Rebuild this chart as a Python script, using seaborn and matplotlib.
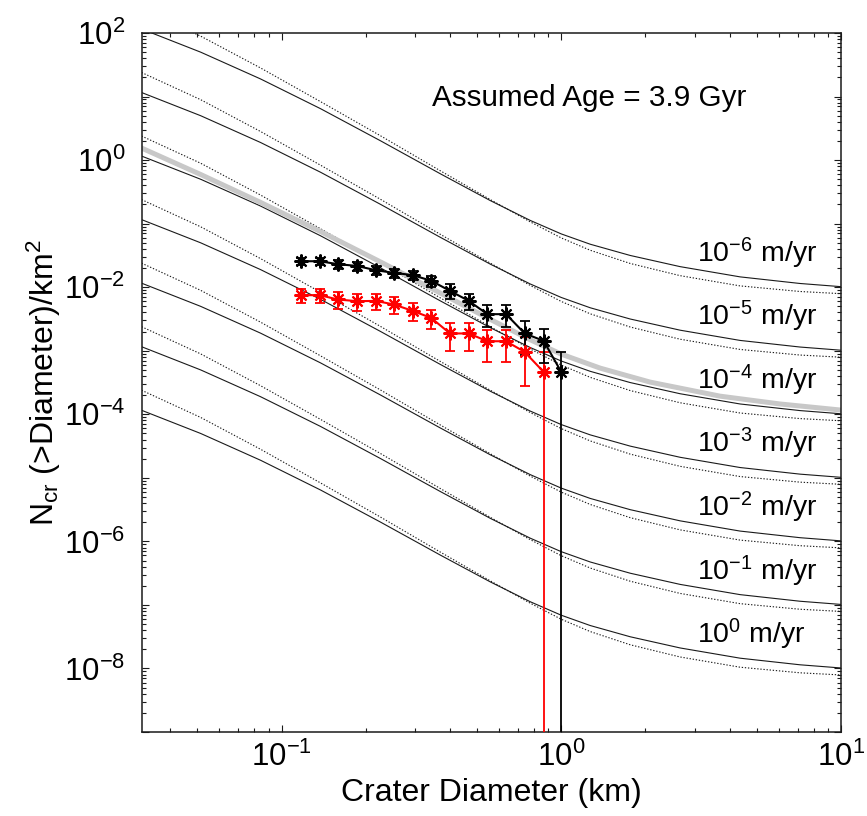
import matplotlib
matplotlib.use("Agg")
import numpy as np
import pandas as pd
import seaborn as sns
import matplotlib.pyplot as plt

# %%
# Values

# equilibrium curves, read for the 10^0 m/yr case (the others sit one decade higher per rate step)
curve_D = [0.0316, 0.0514, 0.0841, 0.1378, 0.2257, 0.3697, 0.5578, 0.775, 1.0,
           1.269, 1.764, 2.661, 4.359, 7.139, 10.0]
solid_logN = [-3.937, -4.302, -4.723, -5.191, -5.696, -6.216, -6.638, -6.950, -7.162,
              -7.324, -7.501, -7.677, -7.838, -7.942, -7.992]
dotted_logN = [-3.622, -4.050, -4.550, -5.080, -5.617, -6.169, -6.622, -6.973, -7.225,
               -7.419, -7.627, -7.819, -7.980, -8.068, -8.102]
rates = [1e-6, 1e-5, 1e-4, 1e-3, 1e-2, 1e-1, 1e0]
rate_exp = [-6, -5, -4, -3, -2, -1, 0]

# gray production curve
gray_D = [0.0316, 0.0514, 0.0841, 0.1378, 0.2257, 0.3697, 0.5578, 0.775, 1.0,
          1.378, 2.079, 3.698, 6.056, 10.0]
gray_logN = [0.189, -0.227, -0.666, -1.124, -1.602, -2.093, -2.507, -2.828, -3.054,
             -3.274, -3.494, -3.715, -3.838, -3.934]

# crater counts
count_D = [0.117, 0.137, 0.159, 0.186, 0.217, 0.252, 0.294, 0.343, 0.400, 0.467,
           0.544, 0.635, 0.740, 0.865, 1.0]
black_N = [0.0256, 0.0256, 0.0230, 0.0216, 0.0185, 0.0168, 0.0155, 0.0126, 0.00875,
           0.00609, 0.00376, 0.00376, 0.00187, 0.00143, 0.000463]
black_rel = [0.14, 0.14, 0.16, 0.17, 0.17, 0.17, 0.17, 0.21, 0.26, 0.29, 0.37, 0.37,
             0.55, 0.55, 1.04]
red_N = [0.00748, 0.00748, 0.0064, 0.00602, 0.00608, 0.00535, 0.00424, 0.00328,
         0.00187, 0.00187, 0.00141, 0.00141, 0.000957, 0.000463]
red_rel = [0.25, 0.25, 0.29, 0.29, 0.28, 0.29, 0.31, 0.34, 0.48, 0.48, 0.53, 0.53,
           0.71, 1.05]

# %%
# Setup
sns.set_theme(style="ticks")
plt.rcParams['font.family'] = ['Liberation Sans', 'DejaVu Sans']
plt.rcParams['mathtext.fontset'] = 'custom'
plt.rcParams['mathtext.rm'] = 'Liberation Sans'
plt.rcParams['mathtext.it'] = 'Liberation Sans:italic'
plt.rcParams['mathtext.bf'] = 'Liberation Sans:bold'
plt.rcParams['xtick.direction'] = 'in'
plt.rcParams['ytick.direction'] = 'in'
plt.rcParams['text.color'] = 'black'
plt.rcParams['axes.labelcolor'] = 'black'
plt.rcParams['xtick.color'] = 'black'
plt.rcParams['ytick.color'] = 'black'
plt.rcParams['xtick.labelcolor'] = 'black'
plt.rcParams['ytick.labelcolor'] = 'black'

fig = plt.figure(figsize=(8.67, 8.16), dpi=100)
ax = fig.add_axes([0.1634, 0.1029, 0.8066, 0.8567])
ax.set_xscale('log')
ax.set_yscale('log', nonpositive='clip')

# %%
# Erosion curves
rows = []
for r in rates:
    for d, s, t in zip(curve_D, solid_logN, dotted_logN):
        rows.append({'D': d, 'N': 10 ** s / r, 'kind': 'solid', 'rate': r})
        rows.append({'D': d, 'N': 10 ** t / r, 'kind': 'dotted', 'rate': r})
curves = pd.DataFrame(rows)

sns.lineplot(data=curves[curves['kind'] == 'dotted'], x='D', y='N', units='rate',
             estimator=None, color='0.1', lw=0.8, linestyle=(0, (1.2, 1.6)), ax=ax)
sns.lineplot(data=curves[curves['kind'] == 'solid'], x='D', y='N', units='rate',
             estimator=None, color='k', lw=0.8, ax=ax)

# production function
sns.lineplot(x=gray_D, y=[10 ** v for v in gray_logN], color='#c8c8c8', lw=3.6, ax=ax)

# %%
# Crater counts with error bars
for D, N, rel, col in [(count_D[:len(red_N)], red_N, red_rel, 'red'),
                       (count_D, black_N, black_rel, 'black')]:
    N = np.array(N)
    err = N * np.array(rel)
    ax.errorbar(D, N, yerr=[err, err], fmt='none', ecolor=col, elinewidth=1.3,
                capsize=3.5, capthick=1.3, zorder=4)
    sns.lineplot(x=D, y=N, color=col, lw=1.5, marker=(8, 2, 0), markersize=10,
                 markeredgecolor=col, markeredgewidth=1.5, ax=ax, zorder=5)

# %%
# Text
ax.text(1.26, 9.5, 'Assumed Age = 3.9 Gyr', ha='center', va='center', fontsize=21.3)
for i, e in enumerate(rate_exp):
    ax.text(3.06, 0.0248 * 10.0 ** (-i), r'$\mathregular{10^{%d}}$ m/yr' % e,
            ha='left', va='baseline', fontsize=20.5)

ax.set_xlim(10 ** -1.5, 10)
ax.set_ylim(1e-9, 1e2)

ax.set_xticks([0.1, 1, 10])
ax.set_xticklabels([r'$\mathregular{10^{-1}}$', r'$\mathregular{10^{0}}$', r'$\mathregular{10^{1}}$'])
yt = [10.0 ** k for k in range(-9, 3)]
ax.set_yticks(yt)
ax.set_yticklabels([r'$\mathregular{10^{%d}}$' % k if k % 2 == 0 else '' for k in range(-9, 3)])
ax.yaxis.set_minor_locator(matplotlib.ticker.LogLocator(base=10, subs=np.arange(2, 10), numticks=30))
ax.xaxis.set_minor_locator(matplotlib.ticker.LogLocator(base=10, subs=np.arange(2, 10), numticks=30))
ax.yaxis.set_minor_formatter(matplotlib.ticker.NullFormatter())
ax.xaxis.set_minor_formatter(matplotlib.ticker.NullFormatter())
ax.tick_params(which='both', top=True, right=True, labelsize=22.5, width=0.8, color='k')
ax.tick_params(which='major', length=5)
ax.tick_params(which='minor', length=2.8)
ax.tick_params(axis='x', pad=7)
ax.tick_params(axis='y', pad=12)
for sp in ax.spines.values():
    sp.set_linewidth(1.1)
    sp.set_color('k')

ax.set_xlabel('Crater Diameter (km)', fontsize=23)
ax.set_ylabel(r'N$_\mathregular{cr}$ (>Diameter)/km$^\mathregular{2}$', fontsize=23)
ax.xaxis.set_label_coords(0.5, -0.066)
ax.yaxis.set_label_coords(-0.112, 0.5)

fig.savefig('out.png', dpi=100)
